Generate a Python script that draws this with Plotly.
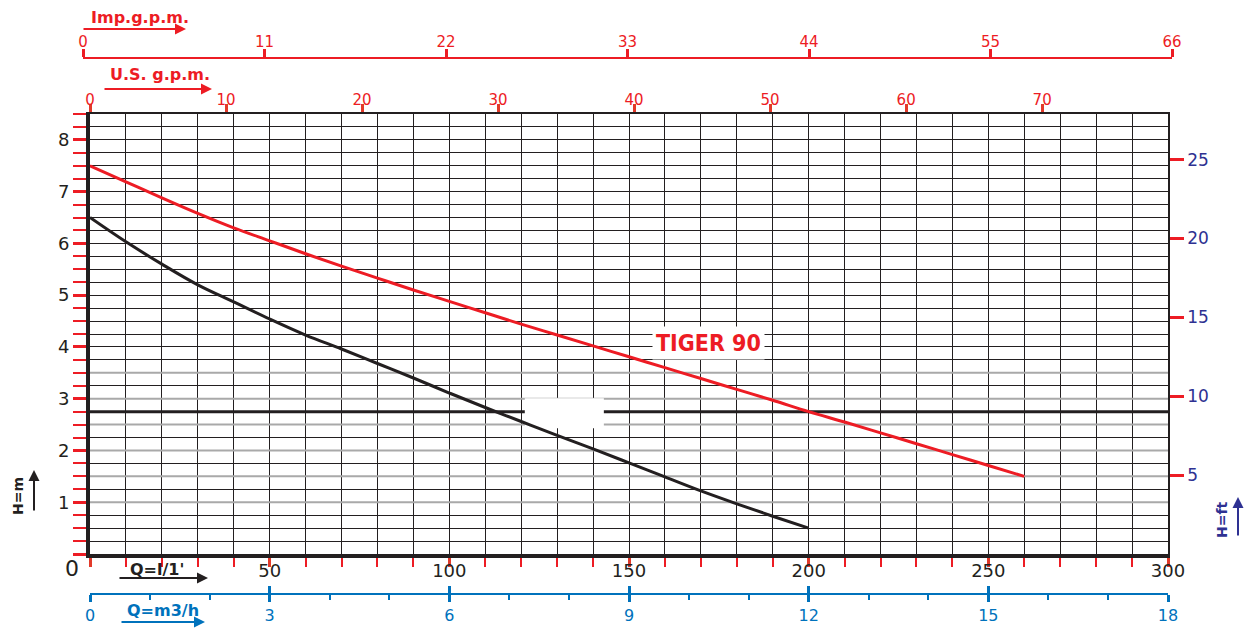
import plotly.graph_objects as go

# ---------------- data ----------------
FLOW_RED_LPM = [0, 10, 20, 30, 40, 50, 60, 70, 80, 90, 100, 110, 120, 130,
                140, 150, 160, 170, 180, 190, 200, 210, 220, 230, 240, 250, 260]
HEAD_RED_M = [7.50, 7.19, 6.88, 6.58, 6.30, 6.05, 5.80, 5.56, 5.33, 5.10, 4.88,
              4.66, 4.44, 4.23, 4.02, 3.81, 3.60, 3.39, 3.18, 2.97, 2.75, 2.55,
              2.34, 2.13, 1.92, 1.71, 1.50]

FLOW_BLACK_LPM = [0, 10, 20, 30, 40, 50, 60, 70, 80, 90, 100, 110, 120, 130,
                  140, 150, 160, 170, 180, 190, 200]
HEAD_BLACK_M = [6.50, 6.03, 5.60, 5.20, 4.87, 4.54, 4.23, 3.96, 3.68, 3.40, 3.11,
                2.83, 2.56, 2.29, 2.03, 1.76, 1.49, 1.22, 0.97, 0.73, 0.50]

CURVE_LABEL = "TIGER 90"
CURVE_LABEL_POS = [172, 4.08]          # (l/min, m)

LPM_TICKS = [0, 50, 100, 150, 200, 250, 300]
LPM_TICKTEXT = ["", "50", "100", "150", "200", "250", "300"]
HM_TICKS = [0, 1, 2, 3, 4, 5, 6, 7, 8]
HM_TICKTEXT = ["", "1", "2", "3", "4", "5", "6", "7", "8"]
HFT_TICKS = [5, 10, 15, 20, 25]
USGPM_TICKS = [0, 10, 20, 30, 40, 50, 60, 70]
IMPGPM_TICKS = [0, 11, 22, 33, 44, 55, 66]
M3H_TICKS = [0, 3, 6, 9, 12, 15, 18]

GRAY_LINES_M = [1.0, 1.5, 2.0, 2.5, 3.0, 3.5]
REF_LINE_M = 2.75
BLANK_PATCH = [121, 143, 2.43, 3.01]   # Q0, Q1, H0, H1 (erased area)

Q_MAX = 300.0
H_MAX = 8.5
IMP_MAX = 66
LPM_PER_USGPM = 3.785411784
M_PER_FT = 0.3048

# ---------------- style ----------------
RED = "#ed1c24"
TICKRED = "#e23a2a"
DARK = "#231f20"
BLUE = "#0072bc"
NAVY = "#2e3192"
GRAY = "#a9a9a9"
FONT = "DejaVu Sans"

# page offset of the figure inside the html body (default 8px body margin)
OFF = 8
W, H = 1254 - OFF, 630 - OFF
# plot area in page pixels: x 83..1172, y 59..593
ML, MT = 83 - OFF, 59 - OFF
MR = W - (1172 - OFF)
MB = H - (593 - OFF)
PW, PH = W - ML - MR, H - MT - MB


def px(xp):
    return (xp - OFF - ML) / PW


def py(yp):
    return (H - MB - (yp - OFF)) / PH


XD = [px(90), px(1168)]
YD = [py(554), py(114)]

fig = go.Figure()

# helper (invisible) traces so every axis has a subplot
hid = dict(mode="markers", marker=dict(opacity=0), hoverinfo="skip", showlegend=False)
fig.add_trace(go.Scatter(x=[0], y=[0], xaxis="x2", yaxis="y", **hid))
fig.add_trace(go.Scatter(x=[0], y=[0], xaxis="x", yaxis="y2", **hid))
fig.add_trace(go.Scatter(x=[0], y=[0], xaxis="x3", yaxis="y3", **hid))
fig.add_trace(go.Scatter(x=[0], y=[0], xaxis="x4", yaxis="y3", **hid))
fig.add_trace(go.Scatter(x=[0], y=[0], xaxis="x5", yaxis="y3", **hid))

# curves
fig.add_trace(go.Scatter(x=FLOW_BLACK_LPM, y=HEAD_BLACK_M, mode="lines",
                         line=dict(color=DARK, width=3, shape="spline"),
                         showlegend=False, xaxis="x", yaxis="y"))
fig.add_trace(go.Scatter(x=FLOW_RED_LPM, y=HEAD_RED_M, mode="lines",
                         line=dict(color=RED, width=3, shape="spline"),
                         showlegend=False, xaxis="x", yaxis="y"))

shapes = []
for g in GRAY_LINES_M:
    shapes.append(dict(type="line", xref="x", yref="y", x0=0, x1=Q_MAX, y0=g, y1=g,
                       line=dict(color=GRAY, width=2), layer="between"))
shapes.append(dict(type="line", xref="x", yref="y", x0=0, x1=Q_MAX,
                   y0=REF_LINE_M, y1=REF_LINE_M,
                   line=dict(color=DARK, width=3), layer="between"))
shapes.append(dict(type="rect", xref="x", yref="y",
                   x0=BLANK_PATCH[0], x1=BLANK_PATCH[1],
                   y0=BLANK_PATCH[2], y1=BLANK_PATCH[3],
                   fillcolor="white", line=dict(width=0), layer="between"))

ann = []


def text(t, xp, yp, color, size, angle=0, bold=True):
    ann.append(dict(text=("<b>%s</b>" % t) if bold else t, xref="paper", yref="paper",
                    x=px(xp), y=py(yp), xanchor="center", yanchor="middle",
                    showarrow=False, textangle=angle,
                    font=dict(family=FONT, size=size, color=color)))


def arrow(x_head, y_head, dx, dy, color):
    ann.append(dict(text="", xref="paper", yref="paper", x=px(x_head), y=py(y_head),
                    ax=dx, ay=dy, showarrow=True, arrowhead=2, arrowsize=1.1,
                    arrowwidth=2, arrowcolor=color))


text("Imp.g.p.m.", 140, 18, RED, 16)
arrow(186, 29, -104, 0, RED)
text("U.S. g.p.m.", 160, 75, RED, 16)
arrow(212, 89, -109, 0, RED)
text("Q=l/1'", 157, 569, DARK, 16)
arrow(208, 578, -90, 0, DARK)
text("Q=m3/h", 163, 610, BLUE, 16)
arrow(205, 622, -85, 0, BLUE)
text("H=m", 18, 496, DARK, 14, angle=-90)
arrow(34, 470, 0, 42, DARK)
text("H=ft", 1222, 520, NAVY, 14, angle=-90)
arrow(1238, 497, 0, 40, NAVY)
text("0", 72, 568, DARK, 22, bold=False)

ann.append(dict(text="<b>%s</b>" % CURVE_LABEL, xref="x", yref="y",
                x=CURVE_LABEL_POS[0], y=CURVE_LABEL_POS[1], showarrow=False,
                bgcolor="white", borderpad=3,
                font=dict(family="Liberation Sans Narrow, DejaVu Sans Condensed, Arial Narrow",
                          size=23, color=RED)))

tick_font = dict(family=FONT, size=18, color=DARK)

fig.update_layout(
    width=W, height=H,
    margin=dict(l=ML, r=MR, t=MT, b=MB, pad=0, autoexpand=False),
    paper_bgcolor="white", plot_bgcolor="rgba(0,0,0,0)",
    showlegend=False,
    shapes=shapes, annotations=ann,
    xaxis=dict(domain=XD, range=[0, Q_MAX], anchor="y", side="bottom",
               showline=True, linecolor=DARK, linewidth=4, zeroline=False,
               tickmode="array", tickvals=LPM_TICKS, ticktext=LPM_TICKTEXT,
               ticks="outside", ticklen=9, tickwidth=3, tickcolor=TICKRED,
               tickfont=tick_font, ticklabelstandoff=-12,
               showgrid=True, gridcolor=DARK, gridwidth=1.2,
               minor=dict(dtick=10, tick0=0, ticks="outside", ticklen=9, tickwidth=1.5,
                          tickcolor=RED, showgrid=True, gridcolor=DARK, gridwidth=1.2)),
    yaxis=dict(domain=YD, range=[0, H_MAX], anchor="x", side="left",
               showline=True, linecolor=DARK, linewidth=4, zeroline=False,
               tickmode="array", tickvals=HM_TICKS, ticktext=HM_TICKTEXT,
               ticks="outside", ticklen=13, tickwidth=3, tickcolor=RED,
               tickfont=tick_font,
               showgrid=True, gridcolor=DARK, gridwidth=1.2,
               minor=dict(dtick=0.25, tick0=0, ticks="outside", ticklen=13, tickwidth=1.5,
                          tickcolor=RED, showgrid=True, gridcolor=DARK, gridwidth=1.2)),
    xaxis2=dict(overlaying="x", side="top", anchor="y", domain=XD,
                range=[0, Q_MAX / LPM_PER_USGPM],
                tickmode="array", tickvals=USGPM_TICKS,
                ticks="outside", ticklen=8, tickwidth=3, tickcolor=TICKRED,
                tickfont=dict(family=FONT, size=15, color=RED), ticklabelstandoff=-7,
                showgrid=False, zeroline=False,
                showline=True, linecolor=DARK, linewidth=1.5),
    yaxis2=dict(overlaying="y", side="right", anchor="x",
                range=[0, H_MAX / M_PER_FT],
                tickmode="array", tickvals=HFT_TICKS,
                ticks="outside", ticklen=14, tickwidth=3, tickcolor=RED,
                tickfont=dict(family=FONT, size=17, color=NAVY),
                showgrid=False, zeroline=False,
                showline=True, linecolor=DARK, linewidth=1.5),
    yaxis3=dict(domain=[0, 1], range=[0, 1], anchor="x3", visible=False,
                showgrid=False, zeroline=False),
    xaxis3=dict(domain=[0, 1], anchor="y3", side="top",
                range=[0, IMP_MAX],
                tickmode="array", tickvals=IMPGPM_TICKS,
                ticks="outside", ticklen=8, tickwidth=3, tickcolor=RED,
                tickfont=dict(family=FONT, size=15, color=RED), ticklabelstandoff=-4,
                showgrid=False, zeroline=False,
                showline=True, linecolor=RED, linewidth=2),
    xaxis4=dict(domain=XD, anchor="y3", side="bottom",
                range=[0, Q_MAX * 60 / 1000],
                tickmode="array", tickvals=M3H_TICKS,
                ticks="outside", ticklen=7, tickwidth=2.5, tickcolor=BLUE,
                tickfont=dict(family=FONT, size=16, color=BLUE),
                minor=dict(dtick=1, tick0=0, ticks="outside", ticklen=5, tickwidth=2,
                           tickcolor=BLUE, showgrid=False),
                showgrid=False, zeroline=False,
                showline=True, linecolor=BLUE, linewidth=2),
    xaxis5=dict(overlaying="x4", anchor="y3", side="bottom", domain=XD,
                range=[0, Q_MAX * 60 / 1000],
                tickmode="array", tickvals=M3H_TICKS,
                ticks="inside", ticklen=7, tickwidth=2.5, tickcolor=BLUE,
                showticklabels=False, showgrid=False, zeroline=False, showline=False),
)

fig.write_html("out.html")
